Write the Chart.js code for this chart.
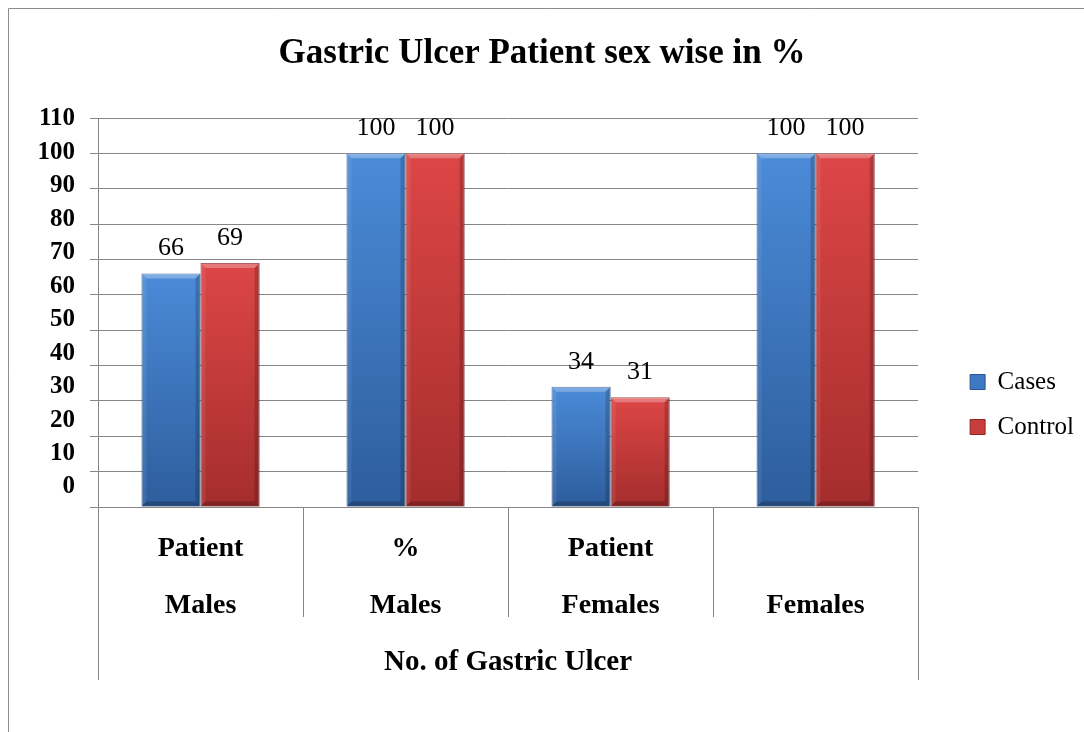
<!DOCTYPE html>
<html>
<head>
<meta charset="utf-8">
<script src="https://cdn.jsdelivr.net/npm/chart.js@4"></script>
<style>
  html, body { margin: 0; padding: 0; background: #fff; }
</style>
</head>
<body>
<canvas id="ulcerChart" width="1084" height="732"></canvas>
<script>
const categories = [['Patient', 'Males'], ['%', 'Males'], ['Patient', 'Females'], ['', 'Females']];
const groupLabel = 'No. of Gastric Ulcer';
const seriesNames = ['Cases', 'Control'];
const casesValues = [66, 100, 34, 100];
const controlValues = [69, 100, 31, 100];
const yTicks = [0, 10, 20, 30, 40, 50, 60, 70, 80, 90, 100, 110];

const SERIF = "'Times New Roman', 'Liberation Serif', serif";
const GRID = '#868686';

// per-bar vertical gradient, light at the top like the office bevel style
function barFill(top, bottom) {
  return c => {
    const chart = c.chart;
    if (!chart.chartArea || c.raw == null) return bottom;
    const ys = chart.scales.y;
    const g = chart.ctx.createLinearGradient(0, ys.getPixelForValue(c.raw), 0, ys.getPixelForValue(0));
    g.addColorStop(0, top);
    g.addColorStop(1, bottom);
    return g;
  };
}

const framePlugin = {
  id: 'frame',
  beforeDraw(chart) {
    const ctx = chart.ctx;
    ctx.save();
    ctx.fillStyle = '#fff';
    ctx.fillRect(0, 0, chart.width, chart.height);
    ctx.strokeStyle = '#8c8c8c';
    ctx.lineWidth = 1;
    ctx.beginPath();
    ctx.moveTo(8.5, chart.height);
    ctx.lineTo(8.5, 8.5);
    ctx.lineTo(chart.width, 8.5);
    ctx.stroke();
    ctx.restore();
  },
  afterDraw(chart) {
    // the outer lines of the category table run down past the group label
    const x = chart.scales.x;
    const ctx = chart.ctx;
    ctx.save();
    ctx.strokeStyle = GRID;
    ctx.lineWidth = 1;
    ctx.beginPath();
    [x.left, x.right].forEach(px => {
      ctx.moveTo(Math.round(px) + 0.5, x.top + 110);
      ctx.lineTo(Math.round(px) + 0.5, x.top + 173);
    });
    ctx.stroke();
    ctx.restore();
  }
};

const bevelPlugin = {
  id: 'bevel',
  afterDatasetsDraw(chart) {
    const ctx = chart.ctx;
    const b = 5;
    ctx.save();
    chart.data.datasets.forEach((ds, i) => {
      chart.getDatasetMeta(i).data.forEach(bar => {
        const l = bar.x - bar.width / 2, r = bar.x + bar.width / 2;
        const t = bar.y, bt = bar.base;
        ctx.fillStyle = 'rgba(255,255,255,0.28)';
        ctx.beginPath();
        ctx.moveTo(l, t); ctx.lineTo(r, t); ctx.lineTo(r - b, t + b); ctx.lineTo(l + b, t + b);
        ctx.fill();
        ctx.fillStyle = 'rgba(255,255,255,0.08)';
        ctx.beginPath();
        ctx.moveTo(l, t); ctx.lineTo(l + b, t + b); ctx.lineTo(l + b, bt - b); ctx.lineTo(l, bt);
        ctx.fill();
        ctx.fillStyle = 'rgba(0,0,0,0.18)';
        ctx.beginPath();
        ctx.moveTo(r, t); ctx.lineTo(r - b, t + b); ctx.lineTo(r - b, bt - b); ctx.lineTo(r, bt);
        ctx.fill();
        ctx.fillStyle = 'rgba(0,0,0,0.22)';
        ctx.beginPath();
        ctx.moveTo(l, bt); ctx.lineTo(l + b, bt - b); ctx.lineTo(r - b, bt - b); ctx.lineTo(r, bt);
        ctx.fill();
      });
    });
    ctx.restore();
  }
};

const valueLabels = {
  id: 'valueLabels',
  afterDatasetsDraw(chart) {
    const ctx = chart.ctx;
    ctx.save();
    ctx.font = '26px ' + SERIF;
    ctx.fillStyle = '#000';
    ctx.textAlign = 'center';
    ctx.textBaseline = 'middle';
    chart.data.datasets.forEach((ds, i) => {
      chart.getDatasetMeta(i).data.forEach((bar, j) => {
        ctx.fillText(ds.data[j], bar.x, bar.y - 25);
      });
    });
    ctx.restore();
  }
};

new Chart(document.getElementById('ulcerChart'), {
  type: 'bar',
  data: {
    labels: categories,
    datasets: [{
      label: seriesNames[0],
      data: casesValues,
      backgroundColor: barFill('#4b8bd8', '#2d5d9c'),
      borderColor: '#2b5590',
      borderWidth: 1,
      categoryPercentage: 0.576,
      barPercentage: 1
    }, {
      label: seriesNames[1],
      data: controlValues,
      backgroundColor: barFill('#dd4646', '#a52d2d'),
      borderColor: '#8e2626',
      borderWidth: 1,
      categoryPercentage: 0.576,
      barPercentage: 1
    }]
  },
  plugins: [framePlugin, bevelPlugin, valueLabels],
  options: {
    responsive: false,
    animation: false,
    layout: { padding: 0 },
    plugins: {
      title: {
        display: true,
        text: 'Gastric Ulcer Patient sex wise in %',
        color: '#000',
        font: { size: 35, weight: 'bold', family: SERIF, lineHeight: 1.2 },
        padding: { top: 33, bottom: 43 }
      },
      legend: {
        position: 'right',
        align: 'start',
        title: {
          display: true,
          text: ' ',
          font: { size: 10 },
          padding: { top: 337.5, bottom: 0 }
        },
        labels: {
          color: '#000',
          font: { size: 25, family: SERIF },
          boxWidth: 15,
          boxHeight: 15,
          padding: 20,
          generateLabels: chart => chart.data.datasets.map((ds, i) => ({
            text: ds.label,
            fillStyle: i === 0 ? '#3f79c4' : '#c93c3c',
            strokeStyle: ds.borderColor,
            fontColor: '#000',
            lineWidth: 1,
            datasetIndex: i
          }))
        }
      },
      tooltip: { enabled: false }
    },
    scales: {
      y: {
        min: 0,
        max: 110,
        weight: 0,
        afterBuildTicks: s => { s.ticks = yTicks.map(v => ({ value: v })); },
        afterFit: s => { s.width = 8; },
        grid: { color: GRID, tickLength: 8, tickColor: GRID },
        border: { color: GRID },
        ticks: { display: false }
      },
      // label column: the printed numbers sit a little tighter than the grid
      yLabels: {
        type: 'linear',
        position: 'left',
        weight: 1,
        min: -5.98,
        max: 110.3,
        afterBuildTicks: s => { s.ticks = yTicks.map(v => ({ value: v })); },
        afterFit: s => { s.width = 90; },
        grid: { display: false, drawTicks: false },
        border: { display: false },
        ticks: {
          color: '#000',
          padding: 15,
          font: { size: 25, weight: 'bold', family: SERIF }
        }
      },
      gap: {
        type: 'linear',
        position: 'right',
        afterFit: s => { s.width = 32; },
        grid: { display: false, drawTicks: false },
        border: { display: false },
        ticks: { display: false }
      },
      x: {
        afterFit: s => { s.height = 225; },
        grid: { drawOnChartArea: false, tickLength: 110, color: GRID, offset: true },
        border: { color: GRID },
        ticks: {
          color: '#000',
          maxRotation: 0,
          autoSkip: false,
          padding: -96.5,
          font: { size: 28, weight: 'bold', family: SERIF, lineHeight: 2.0357 }
        },
        title: {
          display: true,
          text: groupLabel,
          color: '#000',
          font: { size: 29, weight: 'bold', family: SERIF },
          padding: { top: 0, bottom: 51.6 }
        }
      }
    }
  }
});
</script>
</body>
</html>
